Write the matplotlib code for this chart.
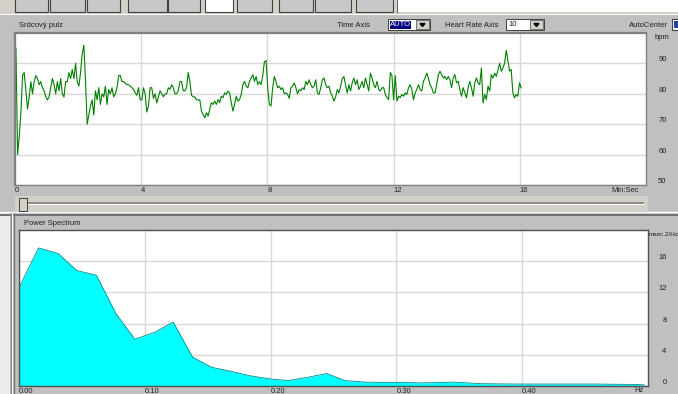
import numpy as np
import matplotlib.pyplot as plt
from matplotlib.patches import Rectangle, Polygon

W, H = 678, 394

# heart rate trace, resampled every 3.15 s
heart_rate_bpm = [
    95, 60, 66, 74, 86, 87, 81, 75, 79, 84,
    80, 84, 86, 85, 83, 84, 82, 81, 79, 78,
    79, 82, 85, 83, 80, 84, 81, 85, 80, 79,
    84, 84, 87, 85, 88, 85, 90, 84, 82.5, 87,
    93, 96, 84, 70, 73, 76, 78, 73, 81, 78,
    82, 76.5, 80, 79, 82.5, 76.5, 81.4, 80, 82, 79,
    80, 82, 86, 86, 84, 84, 83.5, 83, 83, 82.5,
    82, 81.5,
    80.3, 79.5, 82, 78, 78, 82, 80, 74, 76, 82,
    82, 78.5, 80, 77, 79, 81, 80, 79, 80, 80,
    82, 81.5, 83, 82, 80, 80, 81, 84, 84, 81,
    81, 82, 87, 84, 79.5, 79, 79, 78, 78, 78,
    74.3, 73.2, 72.1, 73.8, 72.7, 74.9, 77.1, 76.5, 77.6, 76.5,
    78.1, 77.1, 79.2, 78.7, 80.3, 79.8, 80.9, 80.3, 77.1, 74.3,
    76.5, 79.2, 77.6, 78.1, 79.8, 83, 84.1, 82.5, 82, 84.1,
    85.2, 86.3, 84.1, 85.7, 83,
    84, 83, 86, 90.5, 91, 82, 76.5, 76, 82, 85.7,
    84, 82, 82.5, 81.4, 82, 80, 80.3, 79.8, 78.5, 82,
    82.5, 83.6, 82, 80, 81.4, 81, 82, 81.4, 84.1, 83,
    84.6, 83, 82, 82.5, 84.6, 80.3, 79.8, 82, 84.6, 85.2,
    83, 82, 82.5, 80.3, 79.2, 77.6, 79, 81.4, 80.3, 82.5,
    85, 85.7, 83, 80.3, 83, 80.9, 83.6, 85.2, 83, 84.6,
    81.4, 82.5, 84.1, 82, 85.2, 83, 80.9, 86.8, 85.2, 83,
    82, 84.1, 81.4, 80.9, 82,
    82, 79.8, 78.7, 78.1, 87, 86, 78, 86, 77.6, 79.2,
    78.7, 79.8, 79.2, 80.3, 79.8, 82, 83, 81.4, 78.1, 80.3,
    81.4, 83, 81.4, 80.9, 84.1, 85.2, 86.8, 85.2, 83, 82,
    80.3, 80.3, 83, 86.3, 87.4, 86.3, 85.2, 85.7, 84.6, 85.7,
    84.6, 82, 85.2, 86.3, 83.6, 84.1, 81.4, 79.2, 82, 80.3,
    78.7, 82, 84.1, 82, 79.2, 83.6, 85.2, 83.6, 83, 88.5,
    77, 79.8, 78.1, 82.5, 80.9, 86.3, 85.2, 86.8, 85.7, 87.9,
    90, 87.4, 88.5, 90, 94.3, 91, 87.5, 88, 80.3, 78.7,
    79.8, 79.2, 83.6, 82,
]
sample_sec = 3.15
start_min = 0.03

spectrum_hz = [0.000, 0.0155, 0.031, 0.046, 0.0615, 0.077, 0.092, 0.108, 0.1225,
               0.138, 0.153, 0.168, 0.184, 0.200, 0.214, 0.229, 0.2445, 0.259,
               0.275, 0.290, 0.305, 0.320, 0.335, 0.346, 0.351, 0.367, 0.382,
               0.397, 0.413, 0.428, 0.443, 0.459, 0.474, 0.489, 0.497]
spectrum_power = [12.6, 17.7, 17.0, 14.8, 14.2, 9.3, 6.0, 6.9, 8.2,
                  3.7, 2.4, 1.9, 1.3, 0.9, 0.7, 1.1, 1.6, 0.7,
                  0.5, 0.45, 0.45, 0.4, 0.45, 0.5, 0.45, 0.3, 0.27,
                  0.25, 0.25, 0.25, 0.25, 0.25, 0.22, 0.2, 0.15]

time_ticks = [0, 4, 8, 12, 16]
bpm_ticks = [50, 60, 70, 80, 90]
hz_ticks = [0.0, 0.1, 0.2, 0.3, 0.4]
hz_labels = ['0.00', '0.10', '0.20', '0.30', '0.40']
power_ticks = [0, 4, 8, 12, 16]

plt.rcParams['font.family'] = ['Liberation Sans', 'DejaVu Sans']
plt.rcParams['font.size'] = 5.5
plt.rcParams['text.color'] = '#202020'

PANEL = '#c0c0c0'
FACE = '#d4d0c8'
DARK = '#808080'
GRID = '#d9d9d9'
TXT = '#202020'

fig = plt.figure(figsize=(W / 100, H / 100), dpi=100, facecolor=PANEL)


def box(x0, y0, x1, y1):
    # pixel box (top-left origin) -> figure fraction
    return [x0 / W, 1 - y1 / H, (x1 - x0) / W, (y1 - y0) / H]


# window chrome drawn in pixel units
bg = fig.add_axes([0, 0, 1, 1], zorder=0)
bg.set_xlim(0, W)
bg.set_ylim(H, 0)
bg.axis('off')


def rect(x0, y0, x1, y1, fc, ec='none', lw=0.0, z=1):
    bg.add_patch(Rectangle((x0, y0), x1 - x0, y1 - y0, facecolor=fc,
                           edgecolor=ec, linewidth=lw, zorder=z))


def hline(x0, x1, y, c, lw=0.72):
    bg.plot([x0, x1], [y, y], color=c, lw=lw, solid_capstyle='butt', zorder=3)


def vline(x, y0, y1, c, lw=0.72):
    bg.plot([x, x], [y0, y1], color=c, lw=lw, solid_capstyle='butt', zorder=3)


# toolbar strip
rect(0, 0, W, 14, FACE)
rect(398, 0, W, 12, 'white')
buttons = [(15, 48), (50, 85), (87, 120), (128, 167), (168, 200), (205, 233),
           (237, 272), (279, 313), (315, 351), (356, 393)]
for a, b in buttons:
    fc = 'white' if (a, b) == (205, 233) else '#c8c8c8'
    rect(a, -4, b, 12, fc, ec='#404040', lw=0.8, z=2)
vline(397, 0, 13, '#606060')
hline(0, W, 14, 'white')

# heart rate header
rect(0, 15, W, 32, PANEL)
bg.text(19, 25, 'Srdcový pulz', va='center', ha='left', zorder=4)
bg.text(337, 25, 'Time Axis', va='center', ha='left', zorder=4)
rect(388, 19, 430, 30, 'white', ec='#404040', lw=0.7, z=2)
rect(389.5, 20.5, 411, 28.5, '#000080', z=3)
bg.text(390, 24.8, 'AUTO', color='white', va='center', ha='left', zorder=4)
rect(416, 20, 429, 29, FACE, ec='#606060', lw=0.6, z=3)
bg.add_patch(Polygon([(420, 23.5), (425, 23.5), (422.5, 26.5)], color='black', zorder=4))
bg.text(445, 25, 'Heart Rate Axis', va='center', ha='left', zorder=4)
rect(506, 19, 544, 30, 'white', ec='#404040', lw=0.7, z=2)
bg.text(508, 24.8, '10', va='center', ha='left', zorder=4)
rect(530, 20, 543, 29, FACE, ec='#606060', lw=0.6, z=3)
bg.add_patch(Polygon([(534, 23.5), (539, 23.5), (536.5, 26.5)], color='black', zorder=4))
bg.text(668, 25, 'AutoCenter', va='center', ha='right', zorder=4)
rect(672, 19, 684, 30, 'white', ec='#404040', lw=0.8, z=2)
rect(674, 21, 684, 28, '#2040a0', z=3)

bg.text(655, 37, 'bpm', va='center', ha='left', zorder=4)
bg.text(639, 190, 'Min:Sec', va='center', ha='right', zorder=4)

# slider under the trace
rect(15, 196, 648, 211, FACE)
hline(22, 644, 202.5, '#808080', lw=1.2)
hline(22, 644, 204.3, 'white', lw=0.7)
rect(19, 198, 27, 210.5, FACE, ec='#404040', lw=0.7, z=4)
hline(19.5, 26, 198.6, 'white', lw=0.7)

# divider between the two panels
hline(0, W, 211.8, 'white', lw=1.0)
hline(0, W, 214.5, '#707070', lw=1.4)

# power spectrum panel
rect(0, 213, 10, H, '#ececec')
vline(10.6, 213, H, '#707070', lw=1.0)
vline(12.3, 213, H, '#f4f4f4', lw=1.0)
vline(14.0, 213, H, '#707070', lw=1.0)
bg.text(24, 223, 'Power Spectrum', va='center', ha='left', zorder=4)
bg.text(648.5, 234.5, 'msec.2/Hz', va='center', ha='left', fontsize=4.6, zorder=4)
bg.text(644, 391, 'Hz', va='center', ha='right', zorder=4)

# heart rate trace
ax1 = fig.add_axes(box(15, 33, 646, 185), zorder=2)
t_min = start_min + np.arange(len(heart_rate_bpm)) * sample_sec / 60.0
ax1.plot(t_min, heart_rate_bpm, color='#008000', lw=0.8)
ax1.set_xlim(0, 20)
ax1.set_ylim(50, 100)
ax1.set_xticks(time_ticks)
ax1.set_xticklabels([str(t) for t in time_ticks], ha='left')
ax1.set_yticks(bpm_ticks)
ax1.yaxis.tick_right()
ax1.tick_params(axis='x', length=0, pad=1.5, labelsize=5.5, labelcolor=TXT)
ax1.tick_params(axis='y', length=0, pad=14.8, labelsize=5.5, labelcolor=TXT)
plt.setp(ax1.get_yticklabels(), ha='right', va='bottom')
ax1.grid(True, color=GRID, lw=1.0)
ax1.set_axisbelow(True)
for side, sp in ax1.spines.items():
    sp.set_color('#808080')
    sp.set_linewidth(1.6 if side in ('left', 'top') else 1.0)

# power spectrum
ax2 = fig.add_axes(box(19, 230, 648, 386), zorder=2)
ax2.fill_between(spectrum_hz, spectrum_power, 0, color='#00ffff', lw=0)
ax2.plot(spectrum_hz, spectrum_power, color='#008b8b', lw=0.6)
ax2.set_xlim(0, 0.5)
ax2.set_ylim(0, 20)
ax2.set_xticks(hz_ticks)
ax2.set_xticklabels(hz_labels, ha='left')
ax2.set_yticks(power_ticks)
ax2.yaxis.tick_right()
ax2.tick_params(axis='x', length=0, pad=1.5, labelsize=5.5, labelcolor=TXT)
ax2.tick_params(axis='y', length=0, pad=13.3, labelsize=5.5, labelcolor=TXT)
plt.setp(ax2.get_yticklabels(), ha='right', va='bottom')
ax2.grid(True, color=GRID, lw=1.0)
ax2.set_axisbelow(True)
for side, sp in ax2.spines.items():
    sp.set_color('#505050')
    sp.set_linewidth(1.0)

fig.savefig('out.png', dpi=100, facecolor=PANEL)
